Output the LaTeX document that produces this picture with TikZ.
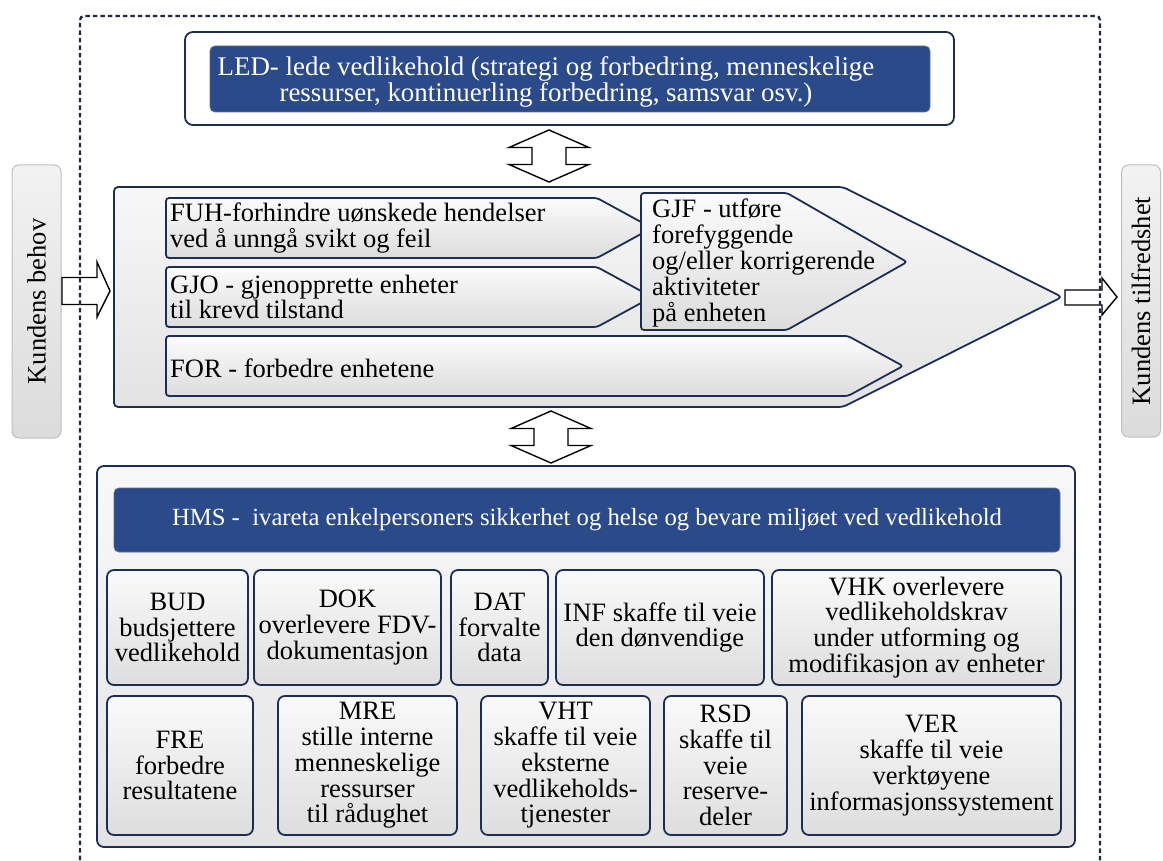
\documentclass[tikz,border=0pt]{standalone}
\usepackage{fontspec}
\setmainfont{Liberation Serif}
\usetikzlibrary{calc}
\definecolor{navy}{HTML}{1F2D55}
\definecolor{mblue}{HTML}{2B4A8A}
\definecolor{framec}{HTML}{1E2A45}
\newcommand\boxfont{\fontsize{26.5}{25.8}\selectfont}
\newcommand\ledfont{\fontsize{26.9}{26.5}\selectfont}
\newcommand\hmsfont{\fontsize{24.7}{26}\selectfont}
\begin{document}
\begin{tikzpicture}[x=1pt,y=-1pt,
  sidebox/.style={draw=gray!50, line width=1, rounded corners=7, top color=gray!10, bottom color=gray!28, font=\boxfont, inner sep=0},
  outerbox/.style={draw=navy, line width=1.8, rounded corners=8, fill=white, inner sep=0},
  bluebox/.style={draw=navy!70, line width=0.8, rounded corners=5, fill=mblue, text=white, inner sep=0, align=center},
  panel/.style={draw=navy, line width=1.8, rounded corners=7, top color=gray!5, bottom color=gray!22, inner sep=0},
  cell/.style={draw=navy, line width=1.8, rounded corners=7, top color=gray!4, bottom color=gray!26, inner sep=0, align=center, font=\boxfont},
  procshape/.style={draw=navy, line width=1.8, rounded corners=4, top color=gray!6, bottom color=gray!22},
  chev/.style={draw=navy, line width=1.8, rounded corners=3, top color=gray!3, bottom color=gray!27},
  txtl/.style={inner sep=0, align=left, font=\boxfont, anchor=west},
  blockarr/.style={draw=black, fill=white, line width=1.4, line join=miter},
  vdouble/.pic={\draw[blockarr] (0,-26) -- (40,-8.5) -- (17,-8.5) -- (17,8.5) -- (40,8.5) -- (0,26) -- (-40,8.5) -- (-17,8.5) -- (-17,-8.5) -- (-40,-8.5) -- cycle;}
]
\useasboundingbox (0,0) rectangle (1163,861);

% customer need and customer satisfaction
\node[sidebox, rotate=90, minimum width=273, minimum height=49] (behov) at (36.5,301.5) {Kundens behov};
\node[sidebox, rotate=90, minimum width=272, minimum height=39] (tilfreds) at (1141,301) {Kundens tilfredshet};

% management layer
\node[outerbox, minimum width=769, minimum height=93] (ledbox) at (569.5,78.5) {};
\node[bluebox, minimum width=720, minimum height=66] (ledfill) at (570,79) {};
\node[inner sep=0, align=center, text=white, font=\ledfont] (led) at (546,82)
  {LED- lede vedlikehold (strategi og forbedring, menneskelige\\ressurser, kontinuerling forbedring, samsvar osv.)};

% core process arrow
\draw[procshape] (114,187) -- (843,187) -- (1062,297) -- (843,407) -- (114,407) -- cycle;
\draw[chev] (166,198) -- (597,198) -- (652,228) -- (597,258) -- (166,258) -- cycle;
\draw[chev] (166,267) -- (597,267) -- (652,297) -- (597,327) -- (166,327) -- cycle;
\draw[chev] (641,193) -- (787,193) -- (907,262) -- (787,330) -- (641,330) -- cycle;
\draw[chev] (166,336) -- (848,336) -- (903,366) -- (848,396) -- (166,396) -- cycle;
\node[txtl] (fuh) at (170,228) {FUH-forhindre uønskede hendelser\\ved å unngå svikt og feil};
\node[txtl] (gjo) at (170,297) {GJO - gjenopprette enheter\\til krevd tilstand};
\node[txtl] (forb) at (170,368) {FOR - forbedre enhetene};
\node[txtl] (gjf) at (652,263) {GJF - utføre\\forefyggende\\og/eller korrigerende\\aktiviteter\\på enheten};

% support layer
\node[panel, minimum width=978, minimum height=381] (panel) at (586,656.5) {};
\node[bluebox, minimum width=946, minimum height=64, font=\hmsfont] (hms) at (587,520)
  {HMS -\ \ ivareta enkelpersoners sikkerhet og helse og bevare miljøet ved vedlikehold};

\node[cell, minimum width=141, minimum height=115] (bud) at (177.5,627.5) {BUD\\budsjettere\\vedlikehold};
\node[cell, minimum width=187, minimum height=115] (dok) at (347.5,627.5) {DOK\\overlevere FDV-\\dokumentasjon};
\node[cell, minimum width=97, minimum height=115] (dat) at (499.5,627.5) {DAT\\forvalte\\data};
\node[cell, minimum width=208, minimum height=115] (inf) at (660,627.5) {INF skaffe til veie\\den dønvendige};
\node[cell, minimum width=289, minimum height=115] (vhk) at (916.5,627.5) {VHK overlevere\\vedlikeholdskrav\\under utforming og\\modifikasjon av enheter};

\node[cell, minimum width=146, minimum height=139] (fre) at (180,765.5) {FRE\\forbedre\\resultatene};
\node[cell, minimum width=179, minimum height=139] (mre) at (367.5,765.5) {MRE\\stille interne\\menneskelige\\ressurser\\til rådughet};
\node[cell, minimum width=169, minimum height=139] (vht) at (565.5,765.5) {VHT\\skaffe til veie\\eksterne\\vedlikeholds-\\tjenester};
\node[cell, minimum width=123, minimum height=139] (rsd) at (725.5,765.5) {RSD\\skaffe til\\veie\\reserve-\\deler};
\node[cell, minimum width=259, minimum height=139] (ver) at (931.5,765.5) {VER\\skaffe til veie\\verktøyene\\informasjonssystement};

% block arrows between the layers
\coordinate (arrtop) at (549,156);
\coordinate (arrbot) at (551,437);
\pic at (arrtop) {vdouble};
\pic at (arrbot) {vdouble};

% input and output arrows
\coordinate (intail) at (62,291);
\coordinate (intip) at (110,291);
\draw[blockarr] (intail) ++(0,-13.5) -- ++(35,0) -- ++(0,-15.5) -- (intip) -- ++(-13,26) -- ++(0,-12.5) -- ++(-35,0) -- cycle;
\coordinate (outtail) at (1065,297.5);
\coordinate (outtip) at (1117,297);
\draw[blockarr] (outtail) ++(0,-7.5) -- ++(37,0) -- ++(0,-12) -- (outtip) -- ++(-15,18) -- ++(0,-10) -- ++(-37,0) -- cycle;

% system boundary
\draw[framec, line width=2.3, dash pattern=on 4.5pt off 3pt, rounded corners=4] (80,875) -- (80,16) -- (1100,16) -- (1100,875);
\end{tikzpicture}
\end{document}
